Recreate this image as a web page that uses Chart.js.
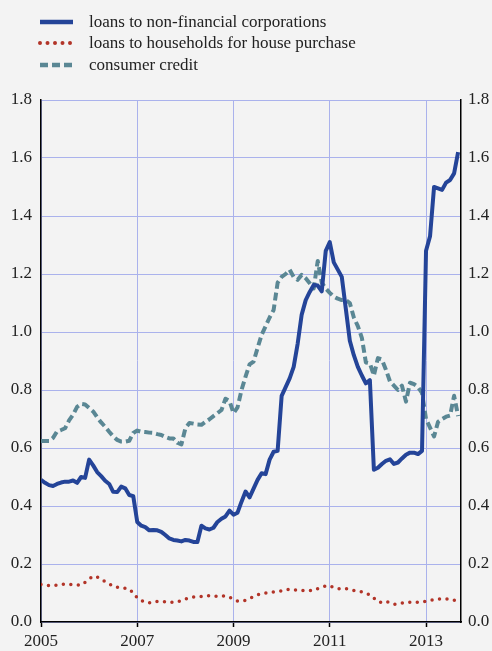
<!DOCTYPE html>
<html>
<head>
<meta charset="utf-8">
<script src="https://cdn.jsdelivr.net/npm/chart.js@4/dist/chart.umd.min.js"></script>
<style>
    html, body { margin: 0; padding: 0; background: #f3f3f3; }
    #wrap { position: relative; width: 492px; height: 651px; }
    #chartLoans { position: absolute; left: 0; top: 0; }
    #legend { position: absolute; left: 0; top: 12px; font-family: 'Liberation Serif', serif; font-size: 17px; color: #222; }
    .row { position: relative; height: 21.4px; line-height: 21.4px; }
    .row svg { position: absolute; left: 38px; top: 4px; }
    .row span { position: absolute; left: 89px; top: -1px; white-space: nowrap; }
</style>
</head>
<body>
<div id="wrap">
    <canvas id="chartLoans" width="492" height="651"></canvas>
    <div id="legend"></div>
</div>
<script>
'use strict';

// monthly observations, January 2005 to September 2013
const FIRST_YEAR = 2005;
const YEAR_TICKS = ['2005', '2007', '2009', '2011', '2013'];

const nonFinancialCorporations = [
    0.49, 0.48, 0.472, 0.469, 0.476, 0.481, 0.484, 0.484, 0.488, 0.48, 0.50, 0.497,
    0.56, 0.54, 0.517, 0.503, 0.487, 0.476, 0.449, 0.448, 0.467, 0.461, 0.438, 0.434,
    0.345, 0.332, 0.327, 0.316, 0.317, 0.316, 0.311, 0.30, 0.288, 0.283, 0.281, 0.278,
    0.283, 0.281, 0.276, 0.276, 0.332, 0.323, 0.319, 0.325, 0.345, 0.356, 0.364, 0.384,
    0.37, 0.377, 0.415, 0.45, 0.43, 0.46, 0.49, 0.513, 0.51, 0.56, 0.587, 0.59,
    0.78, 0.81, 0.84, 0.88, 0.96, 1.06, 1.11, 1.138, 1.162, 1.16, 1.14, 1.28,
    1.31, 1.24, 1.215, 1.19, 1.08, 0.97, 0.92, 0.88, 0.85, 0.823, 0.834, 0.525,
    0.532, 0.545, 0.556, 0.561, 0.545, 0.55, 0.564, 0.577, 0.584, 0.584, 0.579, 0.59,
    1.28, 1.33, 1.50, 1.495, 1.49, 1.515, 1.524, 1.547, 1.62
];

const housePurchase = [
    0.129, 0.127, 0.126, 0.126, 0.127, 0.13, 0.131, 0.13, 0.129, 0.128, 0.127, 0.137,
    0.148, 0.158, 0.155, 0.147, 0.139, 0.132, 0.122, 0.12, 0.118, 0.116, 0.114, 0.10,
    0.083, 0.074, 0.068, 0.066, 0.07, 0.071, 0.071, 0.07, 0.068, 0.068, 0.069, 0.074,
    0.079, 0.083, 0.086, 0.087, 0.088, 0.09, 0.091, 0.09, 0.088, 0.09, 0.09, 0.085,
    0.079, 0.072, 0.072, 0.075, 0.082, 0.087, 0.094, 0.097, 0.10, 0.102, 0.104, 0.105,
    0.107, 0.11, 0.113, 0.112, 0.109, 0.109, 0.109, 0.109, 0.109, 0.115, 0.12, 0.124,
    0.125, 0.118, 0.115, 0.114, 0.115, 0.112, 0.109, 0.106, 0.104, 0.10, 0.093, 0.082,
    0.07, 0.067, 0.071, 0.066, 0.061, 0.063, 0.065, 0.067, 0.068, 0.068, 0.068, 0.07,
    0.071, 0.074, 0.077, 0.079, 0.079, 0.079, 0.079, 0.075, 0.076
];

const consumerCredit = [
    0.624, 0.624, 0.624, 0.635, 0.657, 0.662, 0.668, 0.695, 0.715, 0.742, 0.752, 0.75,
    0.738, 0.726, 0.706, 0.688, 0.673, 0.656, 0.64, 0.628, 0.622, 0.622, 0.625, 0.652,
    0.66, 0.656, 0.655, 0.653, 0.652, 0.648, 0.645, 0.638, 0.633, 0.633, 0.618, 0.612,
    0.668, 0.686, 0.684, 0.681, 0.68, 0.69, 0.699, 0.71, 0.72, 0.731, 0.77, 0.762,
    0.72, 0.74, 0.80, 0.846, 0.888, 0.898, 0.945, 0.99, 1.02, 1.05, 1.076, 1.17,
    1.19, 1.20, 1.215, 1.19, 1.18, 1.197, 1.185, 1.168, 1.15, 1.245, 1.17, 1.15,
    1.135, 1.122, 1.115, 1.11, 1.11, 1.10, 1.05, 1.02, 0.98, 0.895, 0.892, 0.85,
    0.91, 0.905, 0.87, 0.83, 0.815, 0.80, 0.815, 0.76, 0.825, 0.82, 0.81, 0.79,
    0.70, 0.67, 0.64, 0.69, 0.70, 0.708, 0.712, 0.78, 0.71
];

const SERIES = [
    { label: 'loans to non-financial corporations', values: nonFinancialCorporations,
      color: 'rgb(36, 68, 152)', width: 4, dash: [], cap: 'butt' },
    { label: 'loans to households for house purchase', values: housePurchase,
      color: 'rgb(178, 52, 40)', width: 3.5, dash: [0, 7.5], cap: 'round' },
    { label: 'consumer credit', values: consumerCredit,
      color: 'rgb(90, 135, 148)', width: 4, dash: [8, 4], cap: 'butt' }
];

// x is measured in years since January 2005 so that the 2-year ticks land on odd years
function toPoints(values) {
    return values.map(function (v, i) {
        return { x: i / 12, y: v };
    });
}

function legendSample(s) {
    let line = '<line x1="2" y1="6" x2="35" y2="6" stroke="' + s.color + '" stroke-width="' + (s.width + 0.5) +
        '" stroke-linecap="' + s.cap + '" stroke-dasharray="' + (s.dash.length ? s.dash.join(',') : 'none') + '"/>';
    return '<svg width="40" height="12">' + line + '</svg>';
}

function buildLegend() {
    let html = '';
    SERIES.forEach(function (s) {
        html += '<div class="row">' + legendSample(s) + '<span>' + s.label + '</span></div>';
    });
    document.getElementById('legend').innerHTML = html;
}

const serif = { family: "'Liberation Serif', 'Times New Roman', serif", size: 17 };
const gridBlue = 'rgb(170, 178, 236)';
const lastX = (nonFinancialCorporations.length - 1) / 12;

const data = {
    datasets: SERIES.map(function (s) {
        return {
            label: s.label,
            data: toPoints(s.values),
            borderColor: s.color,
            backgroundColor: s.color,
            borderWidth: s.width,
            borderDash: s.dash,
            borderCapStyle: s.cap,
            borderJoinStyle: 'round',
            pointRadius: 0,
            tension: 0,
            yAxisID: 'y'
        };
    })
};

const config = {
    type: 'line',
    data,
    options: {
        responsive: false,
        animation: false,
        layout: { padding: { top: 100, left: 0, right: 0, bottom: 0 } },
        plugins: { legend: { display: false }, tooltip: { enabled: false } },
        scales: {
            x: {
                type: 'linear',
                min: 0,
                max: lastX + 0.06,
                afterFit: function (scale) { scale.height = 29; },
                grid: { color: gridBlue, lineWidth: 1, tickColor: '#000', tickLength: 5, tickWidth: 1.5 },
                border: { color: '#000', width: 1.5 },
                ticks: {
                    stepSize: 2,
                    includeBounds: false,
                    padding: 4,
                    color: '#222',
                    font: serif,
                    maxRotation: 0,
                    autoSkip: false,
                    callback: function (v) {
                        let label = String(FIRST_YEAR + Math.round(v));
                        return YEAR_TICKS.includes(label) ? label : '';
                    }
                }
            },
            y: {
                position: 'left',
                min: 0,
                max: 1.8,
                afterFit: function (scale) { scale.width = 41; },
                grid: { color: gridBlue, lineWidth: 1, drawTicks: false },
                border: { color: '#000', width: 1.5 },
                ticks: { stepSize: 0.2, padding: 9, color: '#222', font: serif,
                         callback: function (v) { return v.toFixed(1); } }
            },
            y2: {
                position: 'right',
                min: 0,
                max: 1.8,
                afterFit: function (scale) { scale.width = 31; },
                grid: { display: false, drawTicks: false },
                border: { color: '#000', width: 1.5 },
                ticks: { stepSize: 0.2, padding: 7, color: '#222', font: serif,
                         callback: function (v) { return v.toFixed(1); } }
            }
        }
    }
};

buildLegend();
var chartLoans = new Chart(document.getElementById('chartLoans'), config);
</script>
</body>
</html>
